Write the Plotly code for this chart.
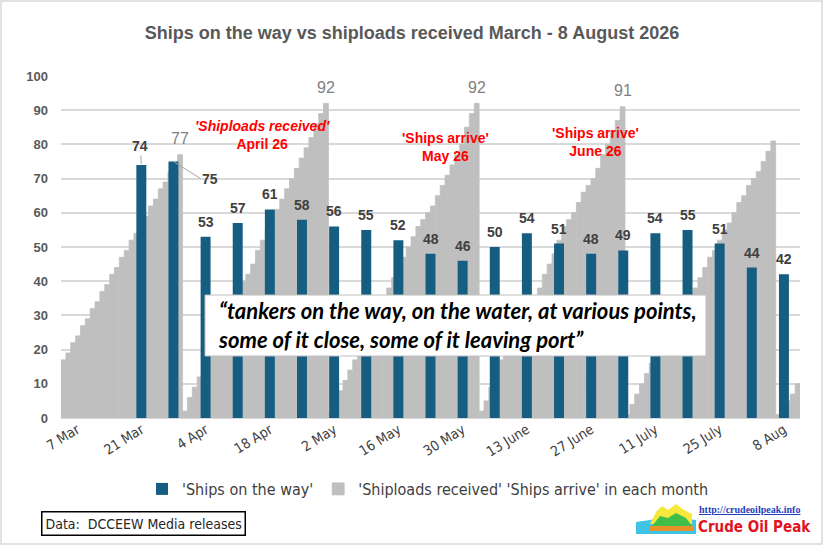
import plotly.graph_objects as go
import pandas as pd

# daily cumulative shiploads received, reset each month
mar_vals = [17, 19, 22, 24, 27, 29, 32, 34, 37, 39, 42, 44, 47, 49, 52, 54, 56, 59, 62, 64, 67, 69, 72, 74, 77]
apr_vals = [2, 6, 9, 12, 15, 18, 21, 24, 27, 30, 33, 36, 40, 42, 45, 49, 52, 55, 58, 61, 64, 67, 70, 73, 76,
            79, 82, 86, 89, 92]
may_vals = [2, 5, 8, 11, 14, 17, 20, 23, 26, 29, 32, 35, 38, 41, 44, 47, 50, 53, 56, 58, 60, 62, 65, 68, 71,
            74, 77, 80, 85, 89, 92]
jun_vals = [2, 5, 9, 13, 17, 20, 23, 26, 28, 31, 33, 35, 38, 42, 45, 48, 52, 56, 58, 60, 63, 66, 68, 70, 73,
            77, 80, 84, 87, 91]
jul_vals = [1, 4, 7, 10, 13, 16, 19, 22, 25, 27, 29, 32, 35, 37, 38, 41, 44, 47, 49, 52, 55, 57, 60, 63, 65,
            68, 70, 72, 75, 78, 81]
aug_vals = [1, 3, 5, 7, 10]

# weekly "ships on the way"
week_labels = ["7 Mar", "14 Mar", "21 Mar", "28 Mar", "4 Apr", "11 Apr", "18 Apr", "25 Apr", "2 May",
               "9 May", "16 May", "23 May", "30 May", "6 June", "13 June", "20 June", "27 June", "4 July",
               "11 July", "18 July", "25 July", "1 Aug", "8 Aug"]
ships_on_way = [None, None, 74, 75, 53, 57, 61, 58, 56, 55, 52, 48, 46, 50, 54, 51, 48, 49, 54, 55, 51, 44, 42]

GRAY = "#bfbfbf"
BLUE = "#165d82"
NARROW = "Liberation Sans Narrow, Arial Narrow, DejaVu Sans Condensed, Liberation Sans, sans-serif"

months = [mar_vals, apr_vals, may_vals, jun_vals, jul_vals, aug_vals]
gray_vals = [v for m in months for v in m]
days = pd.date_range("2026-03-07", periods=len(gray_vals), freq="D").strftime("%Y-%m-%d").tolist()

# plot area in pixels (for placing free text)
L, R, T, B = 61, 800, 76, 418


def px(x):
    return (x - L) / (R - L)


def py(y):
    return (B - y) / (B - T)


fig = go.Figure()

fig.add_trace(go.Bar(
    x=days, y=gray_vals, width=1.0,
    marker=dict(color=GRAY, line=dict(color=GRAY, width=0.8)),
    name="'Shiploads received' 'Ships arrive' in each month",
    xaxis="x", yaxis="y", legendrank=2
))

fig.add_trace(go.Bar(
    x=week_labels, y=ships_on_way, width=0.31,
    marker=dict(color=BLUE, line=dict(width=0)),
    name="'Ships on the way'",
    xaxis="x2", yaxis="y", legendrank=1
))

annotations = []

# month-end peak labels (Mar - Jun)
end = 0
for m in months[:4]:
    end += len(m)
    annotations.append(dict(
        x=days[end - 1], y=gray_vals[end - 1], xref="x", yref="y", text=str(gray_vals[end - 1]),
        showarrow=False, yshift=16, font=dict(family="Liberation Sans", size=16, color="#7f7f7f")
    ))

# blue value labels
lbl_font = dict(family="Liberation Sans", size=14, color="#404040", weight="bold")
for i, v in enumerate(ships_on_way):
    if v is None:
        continue
    if i == 2:
        annotations.append(dict(x=week_labels[i], y=v, xref="x2", yref="y", text=str(v),
                                showarrow=True, arrowhead=0, arrowwidth=1, arrowcolor="#a6a6a6",
                                ax=-1, ay=-19, standoff=1, font=lbl_font))
    elif i == 3:
        annotations.append(dict(x=week_labels[i], y=v, xref="x2", yref="y", text=str(v),
                                showarrow=True, arrowhead=0, arrowwidth=1, arrowcolor="#a6a6a6",
                                ax=27, ay=17, standoff=1, xanchor="left", font=lbl_font))
    else:
        annotations.append(dict(x=week_labels[i], y=v, xref="x2", yref="y", text=str(v),
                                showarrow=False, yshift=15, font=lbl_font))

# red month captions
red = dict(family="Liberation Sans", size=14, color="#ff0000", weight="bold")
cap = dict(xref="paper", yref="paper", showarrow=False, font=red, xanchor="center", yanchor="middle")
annotations += [
    dict(x=px(262), y=py(135), text="<i>'Shiploads received'</i><br>April 26", **cap),
    dict(x=px(445), y=py(147), text="'Ships arrive'<br>May 26", **cap),
    dict(x=px(595), y=py(142), text="'Ships arrive'<br>June 26", **cap),
]

# quote
annotations.append(dict(
    x=px(216), y=py(325), xref="paper", yref="paper", xanchor="left", yanchor="middle", align="left",
    showarrow=False,
    text="“tankers on the way, on the water, at various points,<br>some of it close, some of it leaving port”",
    font=dict(family="Lato, Open Sans, sans-serif", size=22, color="#000000", weight="bold", style="italic")
))

# source box and site name
annotations += [
    dict(x=px(41), y=py(523), xref="paper", yref="paper", xanchor="left", yanchor="middle", showarrow=False,
         text="Data:  DCCEEW Media releases", bordercolor="#000000", borderwidth=1.5, borderpad=3,
         bgcolor="white", font=dict(family=NARROW, size=14, color="#262626")),
    dict(x=px(697), y=py(509), xref="paper", yref="paper", xanchor="left", yanchor="middle", showarrow=False,
         text="<u>http://crudeoilpeak.info</u>",
         font=dict(family="Liberation Serif, serif", size=10, color="#1f3fbf", weight="bold")),
    dict(x=px(696), y=py(527), xref="paper", yref="paper", xanchor="left", yanchor="middle", showarrow=False,
         text="Crude Oil Peak", font=dict(family=NARROW, size=15, color="#e0141e", weight="bold")),
]

shapes = [
    # quote box
    dict(type="rect", xref="paper", yref="paper", x0=px(205), x1=px(706), y0=py(356), y1=py(295),
         fillcolor="white", line=dict(color="#bfbfbf", width=1)),
    # outer chart frame
    dict(type="rect", xref="paper", yref="paper", x0=px(1), x1=px(822), y0=py(544), y1=py(1),
         line=dict(color="#d9d9d9", width=1.5)),
    # small logo
    dict(type="path", xref="paper", yref="paper", fillcolor="#3fc4e8", line=dict(width=0),
         path=f"M {px(636)} {py(534)} L {px(636)} {py(522)} L {px(650)} {py(520)} L {px(665)} {py(516)} "
              f"L {px(680)} {py(518)} L {px(696)} {py(520)} L {px(696)} {py(534)} Z"),
    dict(type="path", xref="paper", yref="paper", fillcolor="#f5e83a", line=dict(width=0),
         path=f"M {px(650)} {py(524)} L {px(656)} {py(512)} L {px(662)} {py(506)} L {px(668)} {py(510)} "
              f"L {px(676)} {py(504)} L {px(684)} {py(510)} L {px(692)} {py(514)} L {px(692)} {py(524)} Z"),
    dict(type="path", xref="paper", yref="paper", fillcolor="#3fbf4a", line=dict(width=0),
         path=f"M {px(652)} {py(526)} L {px(660)} {py(516)} L {px(668)} {py(518)} L {px(676)} {py(513)} "
              f"L {px(686)} {py(518)} L {px(692)} {py(526)} Z"),
    dict(type="rect", xref="paper", yref="paper", x0=px(650), x1=px(694), y0=py(531), y1=py(526),
         fillcolor="#e8902a", line=dict(width=0)),
]

fig.update_layout(
    width=823, height=545,
    margin=dict(l=L, r=823 - R, t=T, b=545 - B),
    paper_bgcolor="white", plot_bgcolor="white",
    title=dict(text="Ships on the way vs shiploads received March - 8 August 2026",
               x=px(412), xanchor="center", y=1 - 33 / 545, yanchor="middle", xref="paper",
               font=dict(family="Liberation Sans", size=18, color="#595959", weight="bold")),
    barmode="overlay",
    showlegend=True,
    legend=dict(orientation="h", x=px(428), xanchor="center", y=py(489), yanchor="middle",
                font=dict(family=NARROW, size=16, color="#404040"), itemwidth=30,
                bgcolor="rgba(0,0,0,0)"),
    xaxis=dict(type="category", categoryorder="array", categoryarray=days,
               range=[-0.5, len(days) - 0.5], showticklabels=False, showgrid=False, ticks="",
               showline=True, linecolor="#d9d9d9", linewidth=1, zeroline=False, fixedrange=True),
    xaxis2=dict(type="category", categoryorder="array", categoryarray=week_labels,
                range=[-0.5, len(week_labels) - 0.5], overlaying="x", anchor="y", side="bottom",
                tickmode="array", tickvals=week_labels[::2], ticktext=week_labels[::2],
                tickangle=-32, ticks="", showgrid=False, showline=False,
                tickfont=dict(family=NARROW, size=14, color="#404040")),
    yaxis=dict(range=[0, 100], dtick=10, showgrid=True, gridcolor="#d9d9d9", gridwidth=1.5,
               zeroline=False, ticks="", ticklabelstandoff=12,
               tickfont=dict(family="Liberation Sans", size=13, color="#595959", weight="bold")),
    annotations=annotations,
    shapes=shapes,
)

fig.write_html("out.html", config={"displayModeBar": False},
               post_script="document.body.style.margin='0';")
